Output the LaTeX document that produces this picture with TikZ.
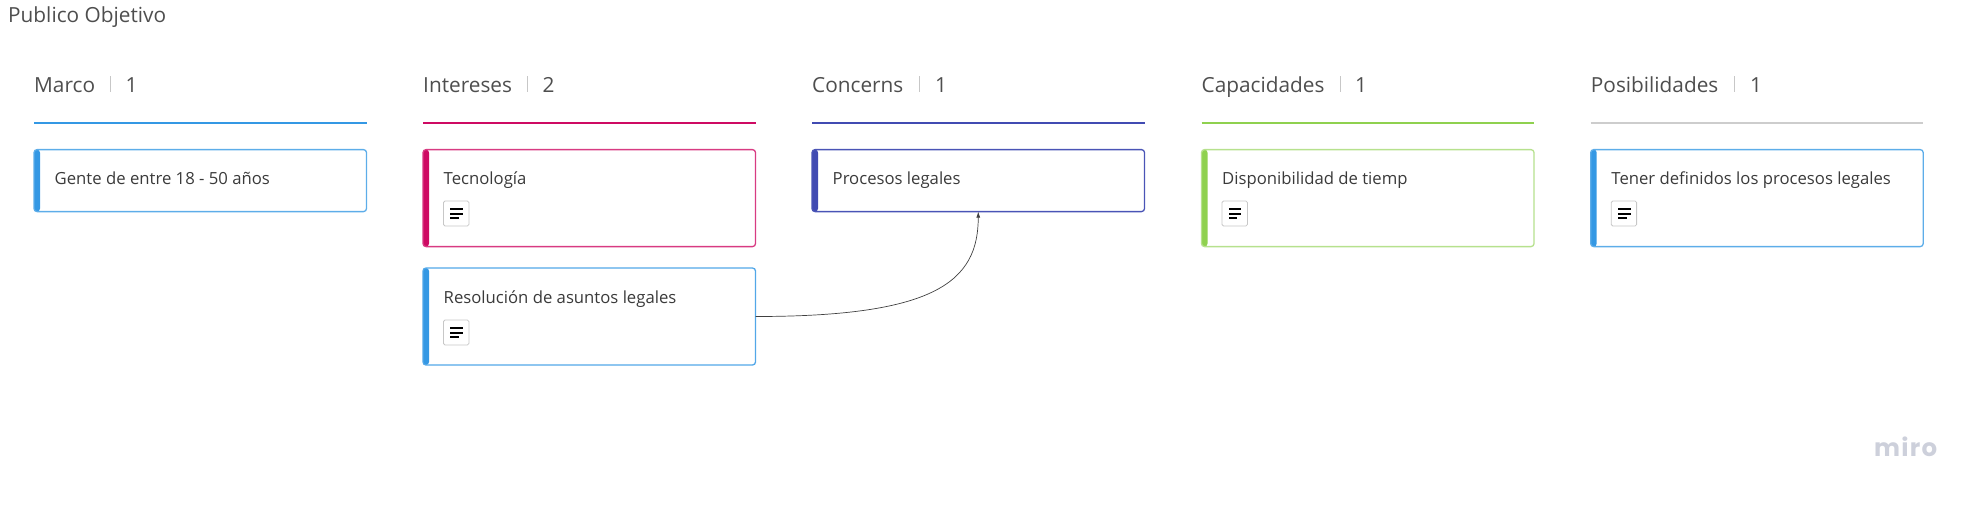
\documentclass[tikz,border=0pt]{standalone}
\usepackage{fontspec}
\setmainfont{Open Sans}
\newfontfamily\logofont{Poppins}[LetterSpace=5]
\usetikzlibrary{arrows.meta}
\definecolor{cblue}{HTML}{3498E4}
\definecolor{cpink}{HTML}{CE0A63}
\definecolor{cindigo}{HTML}{414BB2}
\definecolor{cgreen}{HTML}{8FD14F}
\definecolor{cgrey}{HTML}{CDCDCD}
\definecolor{ink}{HTML}{3A3A3A}
\definecolor{logoc}{HTML}{CDD0DB}
\tikzset{
  x=1pt,y=-1pt,
  title/.style={anchor=base west,inner sep=0,text=ink!90,font=\fontsize{20.8}{25}\selectfont},
  head/.style={anchor=base west,inner sep=0,text=ink!90,font=\fontsize{20.8}{25}\selectfont},
  cardtext/.style={anchor=base west,inner sep=0,text=ink,font=\fontsize{16.7}{20}\selectfont},
  sepline/.style={draw=black!22,line width=0.8pt},
  card/.style n args={3}{draw=#1!#2,line width=1.3pt,rounded corners=3pt,
    anchor=north west,minimum width=332.5pt,minimum height=#3,inner sep=0,outer sep=0,
    path picture={\fill[#1] (path picture bounding box.north west) rectangle ([xshift=6pt]path picture bounding box.south west);}},
  iconbox/.style={draw=black!22,line width=0.8pt,fill=white,rounded corners=1.5pt,anchor=north west,
    minimum width=25.4pt,minimum height=25pt,inner sep=0,outer sep=0},
  iconbar/.style={fill=black},
  link/.style={draw=black!75,line width=0.7pt,-{Latex[length=6pt,width=4pt]}}
}
\newcommand{\headrow}[7]{% name, x, label, sep x, num x, num, colour
  \node[head] (#1h) at (#2,92) {#3};
  \draw[sepline] (#4,76) -- (#4,92);
  \node[head] (#1n) at (#5,92) {#6};
  \draw[#7,line width=2.2pt] (#2,122.7) -- ++(332.5,0);
}
\newcommand{\cardnote}[3]{% name, x, y of box
  \node[iconbox] (#1) at (#2,#3) {};
  \fill[iconbar] (#2+6.6,#3+7) rectangle ++(12.8,2.2);
  \fill[iconbar] (#2+6.6,#3+11.6) rectangle ++(12.8,2.2);
  \fill[iconbar] (#2+6.6,#3+16.2) rectangle ++(8.8,2.2);
}
\begin{document}
\begin{tikzpicture}
\useasboundingbox (0,0) rectangle (1983,504);
\node[title] (board) at (8,22) {Publico Objetivo};

\headrow{a}{34}{Marco}{110}{125.5}{1}{cblue}
\headrow{b}{423}{Intereses}{527}{542.5}{2}{cpink}
\headrow{c}{812}{Concerns}{919.5}{935}{1}{cindigo}
\headrow{d}{1201.5}{Capacidades}{1340}{1355}{1}{cgreen}
\headrow{e}{1590.7}{Posibilidades}{1734.5}{1750}{1}{cgrey}

\node[card={cblue}{80}{62pt}] (gente) at (34,149.6) {};
\node[cardtext] (gentet) at (54.5,184) {Gente de entre 18 - 50 años};

\node[card={cpink}{80}{97pt}] (tec) at (423,149.6) {};
\node[cardtext] (tect) at (443.5,184) {Tecnología};
\cardnote{teci}{443.5}{201}

\node[card={cblue}{85}{97pt}] (res) at (423,268) {};
\node[cardtext] (rest) at (443.5,303) {Resolución de asuntos legales};
\cardnote{resi}{443.5}{320}

\node[card={cindigo}{95}{62pt}] (proc) at (812,149.6) {};
\node[cardtext] (proct) at (832.5,184) {Procesos legales};

\node[card={cgreen}{65}{97pt}] (disp) at (1201.5,149.6) {};
\node[cardtext] (dispt) at (1222,184) {Disponibilidad de tiemp};
\cardnote{dispi}{1222}{201}

\node[card={cblue}{80}{97pt}] (ten) at (1590.7,149.6) {};
\node[cardtext] (tent) at (1611.2,184) {Tener definidos los procesos legales};
\cardnote{teni}{1611.2}{201}

\draw[link] (res.east) .. controls +(180,0) and +(0,70) .. (proc.south);

\node[anchor=base west,inner sep=0,text=logoc,font=\logofont\bfseries\fontsize{24.5}{30}\selectfont] (logo) at (1874,456.7) {miro};
\end{tikzpicture}
\end{document}
